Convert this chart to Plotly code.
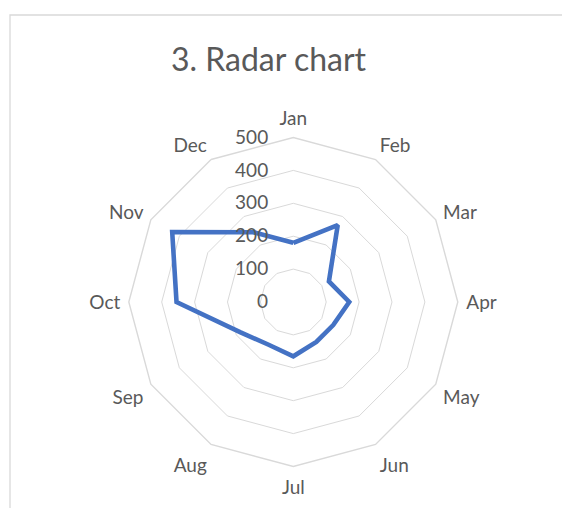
import plotly.graph_objects as go

months = ['Jan', 'Feb', 'Mar', 'Apr', 'May', 'Jun',
          'Jul', 'Aug', 'Sep', 'Oct', 'Nov', 'Dec']
values = [180, 270, 125, 170, 140, 140, 165, 150, 185, 355, 425, 245]
radial_ticks = [0, 100, 200, 300, 400, 500]

W, H = 570, 508
# the page body adds an 8px margin, so positions are shifted back by it
OFF = 8
# plot centre and outer radius in pixels
cx, cy, rad = 293.3 - OFF, 302 - OFF, 164.5

text_col = '#595959'
grid_col = '#d9d9d9'

fig = go.Figure()
fig.add_trace(go.Scatterpolar(
    r=values + values[:1],
    theta=months + months[:1],
    mode='lines',
    line=dict(color='#4472C4', width=4.6),
    hoverinfo='skip',
))

fig.update_layout(
    width=W, height=H,
    margin=dict(l=0, r=0, t=0, b=0),
    paper_bgcolor='white',
    showlegend=False,
    font=dict(family='Lato, sans-serif', color=text_col, size=19),
    title=dict(text='3. Radar chart', x=(268.5 - OFF) / W, xanchor='center',
               y=1 - (60 - OFF) / H, yanchor='middle',
               font=dict(size=32, color=text_col)),
    polar=dict(
        bgcolor='white',
        gridshape='linear',
        domain=dict(x=[(cx - rad) / W, (cx + rad) / W],
                    y=[1 - (cy + rad) / H, 1 - (cy - rad) / H]),
        radialaxis=dict(
            range=[0, 500], tickvals=radial_ticks,
            angle=90, tickangle=90,
            showline=False, gridcolor=grid_col, gridwidth=1.4,
            ticks='outside', ticklen=18, tickcolor='rgba(0,0,0,0)',
            side='counterclockwise',
            tickfont=dict(size=19, color=text_col),
        ),
        angularaxis=dict(
            direction='clockwise', rotation=90,
            showgrid=False, showline=True,
            linecolor=grid_col, linewidth=1.4,
            ticks='outside', ticklen=4, tickcolor='rgba(0,0,0,0)',
            tickfont=dict(size=19, color=text_col),
        ),
    ),
    shapes=[dict(type='rect', xref='paper', yref='paper',
                 x0=(10 - OFF) / W, x1=1.05, y0=-0.05, y1=1 - (15 - OFF) / H,
                 line=dict(color=grid_col, width=1.3))],
)

fig.write_html('out.html')
